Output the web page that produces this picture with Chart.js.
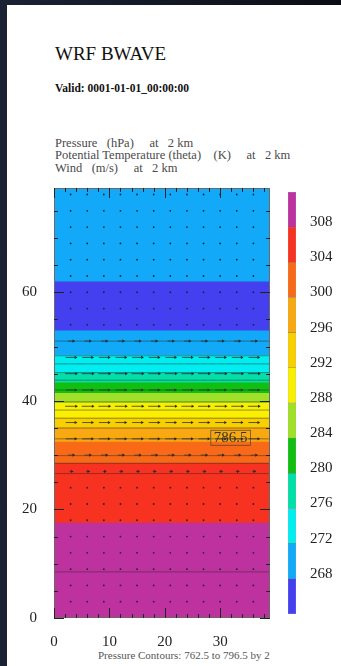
<!DOCTYPE html>
<html>
<head>
<meta charset="utf-8">
<script src="https://cdn.jsdelivr.net/npm/chart.js@4"></script>
<style>
  html, body { margin: 0; padding: 0; }
  body { width: 341px; height: 666px; background: linear-gradient(90deg, #1a2234, #0b0d14); position: relative; overflow: hidden; font-family: "Liberation Serif", "DejaVu Serif", serif; }
  #sheet { position: absolute; left: 7px; top: 5px; width: 334px; height: 661px; background: #fff; }
  .txt { position: absolute; white-space: pre; color: #111; }
  #title { left: 55px; top: 44px; font-size: 19px; line-height: 19px; }
  #valid { left: 55px; top: 83px; font-size: 11.5px; line-height: 11.5px; font-weight: bold; }
  #fields { left: 55px; top: 136.5px; font-size: 12.5px; line-height: 12.5px; color: #4a4a4a; }
  #foot { left: 98px; top: 650px; font-size: 11px; line-height: 11px; color: #555; }
  #mainWrap { position: absolute; left: 0; top: 180px; }
  #barWrap { position: absolute; left: 282px; top: 185px; }
</style>
</head>
<body>
<div id="sheet"></div>
<div class="txt" id="title">WRF BWAVE</div>
<div class="txt" id="valid">Valid: 0001-01-01_00:00:00</div>
<div class="txt" id="fields">Pressure   (hPa)     at   2 km
Potential Temperature (theta)    (K)     at   2 km
Wind   (m/s)     at   2 km</div>
<div class="txt" id="foot">Pressure Contours: 762.5 to 796.5 by 2</div>
<div id="mainWrap"><canvas id="wrfChart" width="282" height="470"></canvas></div>
<div id="barWrap"><canvas id="thetaBar" width="59" height="440"></canvas></div>

<script>
// axes
const xMax = 39;
const yMax = 79.2;
const xTickLabels = [0, 10, 20, 30];
const yTickLabels = [0, 20, 40, 60];

// theta colour levels (K), low to high
const thetaEdges = [264, 268, 272, 276, 280, 284, 288, 292, 296, 300, 304, 308, 312];
const thetaLabels = [268, 272, 276, 280, 284, 288, 292, 296, 300, 304, 308];
const thetaColors = ['#4440f0', '#12aaf8', '#00eef0', '#00e0a8', '#10c010', '#a0e028',
                     '#f8f000', '#f8d000', '#f8a810', '#f86a18', '#f83220', '#be32a0'];

// theta bands across the cross-section (y edges) and their colour class
const bandEdges = [0, 17.5, 28.5, 32.4, 35.0, 36.8, 39.6, 41.4, 43.3, 45.1, 48.4, 52.9, 61.9, 79.2];
const bandClass = [11, 10, 9, 8, 7, 6, 5, 4, 3, 2, 1, 0, 1];

// pressure contours (y position of each isobar)
const isobarY = [51.0, 48.3, 46.8, 45.2, 43.8, 42.0, 39.8, 38.3, 36.8, 35.0, 33.0, 29.9, 28.5, 26.6, 8.5];
const isobarLabel = { x: 31.9, y: 33.1, text: '786.5' };

// wind grid
const windX = [3, 6, 9, 12, 15, 18, 21, 24, 27, 30, 33, 36];
const windY = [3, 6, 9, 12, 15, 18, 21, 24, 27, 30, 33, 36, 39, 42, 45, 48, 51, 54, 57, 60, 63, 66, 69, 72, 75, 78];
const windU = [0, 0, 0, 0, 0, 0, 0, 0, 0.4, 1.0, 1.8, 1.8, 2.0, 1.8, 2.0, 1.8, 1.0, 0, 0, 0, 0, 0, 0, 0, 0, 0];
const arrowScale = 1.0;

const serif = '"Liberation Serif", "DejaVu Serif", serif';

document.addEventListener('DOMContentLoaded', () => {
    const ctx = document.getElementById('wrfChart').getContext('2d');

    const bandSets = bandClass.map((c, i) => ({
        type: 'bar',
        xAxisID: 'xb',
        data: [[bandEdges[i], bandEdges[i + 1]]],
        backgroundColor: thetaColors[c],
        borderWidth: 0,
        grouped: false,
        barPercentage: 1,
        categoryPercentage: 1,
        order: 10
    }));

    const isobarSets = isobarY.map(v => ({
        type: 'line',
        xAxisID: 'x',
        data: [{ x: 0, y: v }, { x: xMax, y: v }],
        borderColor: 'rgba(40,40,40,0.6)',
        borderWidth: 0.8,
        pointRadius: 0,
        order: 3
    }));

    const shafts = [], heads = [], calm = [];
    windY.forEach((y, r) => {
        const len = windU[r] * arrowScale;
        windX.forEach(x => {
            if (len > 0) {
                shafts.push({ x: x - len / 2, y }, { x: x + len / 2, y }, { x: x + len / 2, y: null });
                heads.push({ x: x + len / 2, y });
            } else {
                calm.push({ x, y });
            }
        });
    });

    const windSets = [
        { type: 'line', xAxisID: 'x', data: shafts, borderColor: '#333', borderWidth: 0.8, pointRadius: 0, spanGaps: false, order: 1 },
        { type: 'line', xAxisID: 'x', data: heads, showLine: false, pointStyle: 'triangle', rotation: 90, pointRadius: 1.8,
          backgroundColor: '#222', borderColor: '#222', borderWidth: 0, order: 1 },
        { type: 'line', xAxisID: 'x', data: calm, showLine: false, pointRadius: 0.9, backgroundColor: '#222', borderWidth: 0, order: 1 }
    ];

    const frameTicks = {
        id: 'frameTicks',
        afterDraw(chart) {
            const { ctx, chartArea: a, scales: { x, y } } = chart;
            ctx.save();
            // contour label
            const lx = x.getPixelForValue(isobarLabel.x), ly = y.getPixelForValue(isobarLabel.y);
            ctx.font = '15px ' + serif;
            ctx.textAlign = 'center';
            ctx.textBaseline = 'middle';
            const w = ctx.measureText(isobarLabel.text).width + 6;
            ctx.strokeStyle = 'rgba(60,60,60,0.8)';
            ctx.lineWidth = 0.8;
            ctx.strokeRect(lx - w / 2, ly - 8, w, 15);
            ctx.fillStyle = '#333';
            ctx.fillText(isobarLabel.text, lx, ly);
            // frame
            ctx.strokeStyle = '#6a6a6a';
            ctx.lineWidth = 1;
            ctx.strokeRect(a.left + 0.5, a.top + 0.5, a.right - a.left - 1, a.bottom - a.top - 1);
            // inward ticks on all sides
            ctx.strokeStyle = '#222';
            ctx.beginPath();
            for (let v = 0; v <= xMax; v += 2) {
                const px = Math.round(x.getPixelForValue(v)) + 0.5;
                const len = xTickLabels.includes(v) ? 10 : 4;
                ctx.moveTo(px, a.bottom); ctx.lineTo(px, a.bottom - len);
                ctx.moveTo(px, a.top); ctx.lineTo(px, a.top + len);
            }
            for (let v = 0; v <= yMax; v += 5) {
                const py = Math.round(y.getPixelForValue(v)) + 0.5;
                const len = yTickLabels.includes(v) ? 10 : 4;
                ctx.moveTo(a.left, py); ctx.lineTo(a.left + len, py);
                ctx.moveTo(a.right, py); ctx.lineTo(a.right - len, py);
            }
            ctx.stroke();
            ctx.restore();
        }
    };

    new Chart(ctx, {
        type: 'line',
        data: { labels: [''], datasets: [...bandSets, ...isobarSets, ...windSets] },
        options: {
            responsive: false,
            animation: false,
            layout: { padding: { left: 0, right: 12, top: 8, bottom: 0 } },
            plugins: { legend: false, tooltip: { enabled: false } },
            scales: {
                x: {
                    type: 'linear', min: 0, max: xMax,
                    afterBuildTicks: s => { s.ticks = xTickLabels.map(v => ({ value: v })); },
                    afterFit: s => { s.height = 32; s.paddingLeft = 0; s.paddingRight = 0; },
                    grid: { display: false },
                    border: { display: false },
                    ticks: { padding: 7, color: '#222', font: { family: serif, size: 15 } }
                },
                xb: { type: 'category', offset: true, display: false },
                y: {
                    type: 'linear', min: 0, max: yMax,
                    afterBuildTicks: s => { s.ticks = yTickLabels.map(v => ({ value: v })); },
                    afterFit: s => { s.width = 54; s.paddingTop = 0; s.paddingBottom = 0; },
                    grid: { display: false },
                    border: { display: false },
                    ticks: { padding: 9, color: '#222', font: { family: serif, size: 15 } }
                }
            }
        },
        plugins: [frameTicks]
    });
});

// theta colour bar
document.addEventListener('DOMContentLoaded', () => {
    const ctx = document.getElementById('thetaBar').getContext('2d');

    new Chart(ctx, {
        type: 'bar',
        data: {
            labels: [''],
            datasets: thetaColors.map((c, i) => ({
                data: [[thetaEdges[i], thetaEdges[i + 1]]],
                backgroundColor: c,
                borderColor: 'rgba(60,60,60,0.5)',
                borderWidth: 0.5,
                borderSkipped: false,
                grouped: false,
                barPercentage: 1,
                categoryPercentage: 1
            }))
        },
        options: {
            responsive: false,
            animation: false,
            layout: { padding: { left: 6, right: 0, top: 7, bottom: 11 } },
            plugins: { legend: false, tooltip: { enabled: false } },
            scales: {
                x: { display: false },
                y: {
                    position: 'right', min: thetaEdges[0], max: thetaEdges[thetaEdges.length - 1],
                    afterBuildTicks: s => { s.ticks = thetaLabels.map(v => ({ value: v })); },
                    afterFit: s => { s.width = 45; s.paddingTop = 0; s.paddingBottom = 0; },
                    grid: { display: false },
                    border: { display: false },
                    ticks: { padding: 6, labelOffset: -5, color: '#222', font: { family: serif, size: 15 } }
                }
            }
        }
    });
});
</script>
</body>
</html>
